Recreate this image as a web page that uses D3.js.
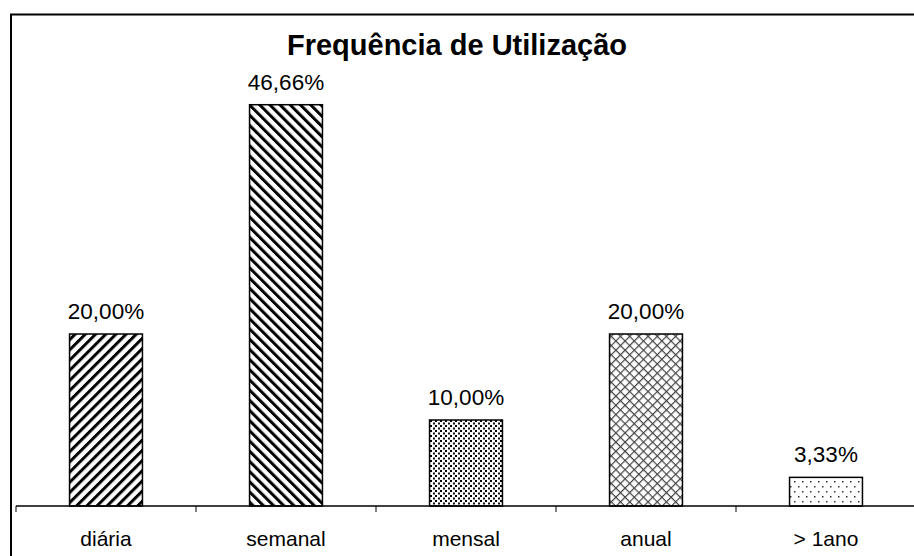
<!DOCTYPE html>
<html>
<head>
<meta charset="utf-8">
<script src="https://cdn.jsdelivr.net/npm/d3@7"></script>
<style>
  html, body { margin: 0; padding: 0; background: #fff; overflow: hidden; width: 914px; height: 556px; }
  svg { display: block; overflow: hidden; }
  text { font-family: "Liberation Sans", Arial, sans-serif; fill: #000; }
</style>
</head>
<body>
<svg id="chart" width="914" height="556" viewBox="0 0 914 556"></svg>
<script>
// Frequência de utilização (percentagem de respostas)
const categories = ["diária", "semanal", "mensal", "anual", "> 1ano"];
const values = [20.00, 46.66, 10.00, 20.00, 3.33];
const valueLabels = ["20,00%", "46,66%", "10,00%", "20,00%", "3,33%"];
const patternIds = ["fillUpDiag", "fillDownDiag", "fillStipple", "fillLattice", "fillSparse"];

const W = 914, H = 556;
const svg = d3.select("#chart");
const defs = svg.append("defs");

// Wide upward diagonal stripes
const p1 = defs.append("pattern").attr("id", "fillUpDiag")
  .attr("patternUnits", "userSpaceOnUse").attr("width", 7.2).attr("height", 7.2)
  .attr("patternTransform", "rotate(45)");
p1.append("rect").attr("width", 7.2).attr("height", 7.2).attr("fill", "#fff");
p1.append("rect").attr("width", 3).attr("height", 7.2).attr("fill", "#000");

// Wide downward diagonal stripes
const p2 = defs.append("pattern").attr("id", "fillDownDiag")
  .attr("patternUnits", "userSpaceOnUse").attr("width", 7.2).attr("height", 7.2)
  .attr("patternTransform", "rotate(-45)");
p2.append("rect").attr("width", 7.2).attr("height", 7.2).attr("fill", "#fff");
p2.append("rect").attr("width", 3).attr("height", 7.2).attr("fill", "#000");

// Dense stipple of small squares
const p3 = defs.append("pattern").attr("id", "fillStipple")
  .attr("patternUnits", "userSpaceOnUse").attr("width", 5).attr("height", 5);
p3.append("rect").attr("width", 5).attr("height", 5).attr("fill", "#fff");
p3.append("rect").attr("x", 0).attr("y", 0).attr("width", 2).attr("height", 2).attr("fill", "#000");
p3.append("rect").attr("x", 3).attr("y", 2.5).attr("width", 2).attr("height", 2).attr("fill", "#111");

// Diagonal lattice (thin cross-hatch)
const p4 = defs.append("pattern").attr("id", "fillLattice")
  .attr("patternUnits", "userSpaceOnUse").attr("width", 6.5).attr("height", 6.5)
  .attr("patternTransform", "rotate(45)");
p4.append("rect").attr("width", 6.5).attr("height", 6.5).attr("fill", "#fff");
p4.append("rect").attr("width", 1.2).attr("height", 6.5).attr("fill", "#444");
p4.append("rect").attr("width", 6.5).attr("height", 1.2).attr("fill", "#444");

// Sparse dots
const p5 = defs.append("pattern").attr("id", "fillSparse")
  .attr("patternUnits", "userSpaceOnUse").attr("width", 8).attr("height", 10)
  .attr("x", 2).attr("y", 1);
p5.append("rect").attr("width", 8).attr("height", 10).attr("fill", "#fff");
p5.append("rect").attr("x", 0).attr("y", 0).attr("width", 1.5).attr("height", 1.5).attr("fill", "#333");
p5.append("rect").attr("x", 4).attr("y", 5).attr("width", 1.5).attr("height", 1.5).attr("fill", "#333");

// Outer frame: left and top edges (the rest lies outside the view)
svg.append("line")
  .attr("x1", 11).attr("x2", 11).attr("y1", 14).attr("y2", H)
  .attr("stroke", "#000").attr("stroke-width", 2);
svg.append("line")
  .attr("x1", 10).attr("x2", W).attr("y1", 14.5).attr("y2", 14.5)
  .attr("stroke", "#000").attr("stroke-width", 2);

// Scales
const x = d3.scaleBand().domain(categories).range([16, 916]).padding(0);
const y = d3.scaleLinear().domain([0, 50]).range([506, 76]);
const barW = x.bandwidth() * 0.405;

// Bars
svg.append("g").selectAll("rect")
  .data(categories)
  .join("rect")
  .attr("x", (d) => x(d) + (x.bandwidth() - barW) / 2)
  .attr("y", (d, i) => y(values[i]))
  .attr("width", barW)
  .attr("height", (d, i) => y(0) - y(values[i]))
  .attr("fill", (d, i) => `url(#${patternIds[i]})`)
  .attr("stroke", "#000")
  .attr("stroke-width", 1.5);

// Value labels
svg.append("g").selectAll("text")
  .data(categories)
  .join("text")
  .attr("x", (d) => x(d) + x.bandwidth() / 2)
  .attr("y", (d, i) => y(values[i]) - 15)
  .attr("text-anchor", "middle")
  .attr("font-size", 22.5)
  .text((d, i) => valueLabels[i]);

// Category axis with ticks between categories
const axisG = svg.append("g").attr("transform", `translate(0,${y(0)})`);
axisG.append("line")
  .attr("x1", 16).attr("x2", W)
  .attr("stroke", "#000").attr("stroke-width", 1.5);
const boundaries = categories.map((c) => x(c)).filter((b) => b < W);
axisG.selectAll("line.tick")
  .data(boundaries)
  .join("line")
  .attr("class", "tick")
  .attr("x1", (d) => d).attr("x2", (d) => d)
  .attr("y1", 0).attr("y2", 6)
  .attr("stroke", "#000").attr("stroke-width", 1);
axisG.selectAll("text.cat")
  .data(categories)
  .join("text")
  .attr("class", "cat")
  .attr("x", (d) => x(d) + x.bandwidth() / 2)
  .attr("y", 40)
  .attr("text-anchor", "middle")
  .attr("font-size", 21)
  .text((d) => d);

// Title
svg.append("text")
  .attr("x", 457).attr("y", 55)
  .attr("text-anchor", "middle")
  .attr("font-size", 29)
  .attr("font-weight", "bold")
  .text("Frequência de Utilização");
</script>
</body>
</html>
